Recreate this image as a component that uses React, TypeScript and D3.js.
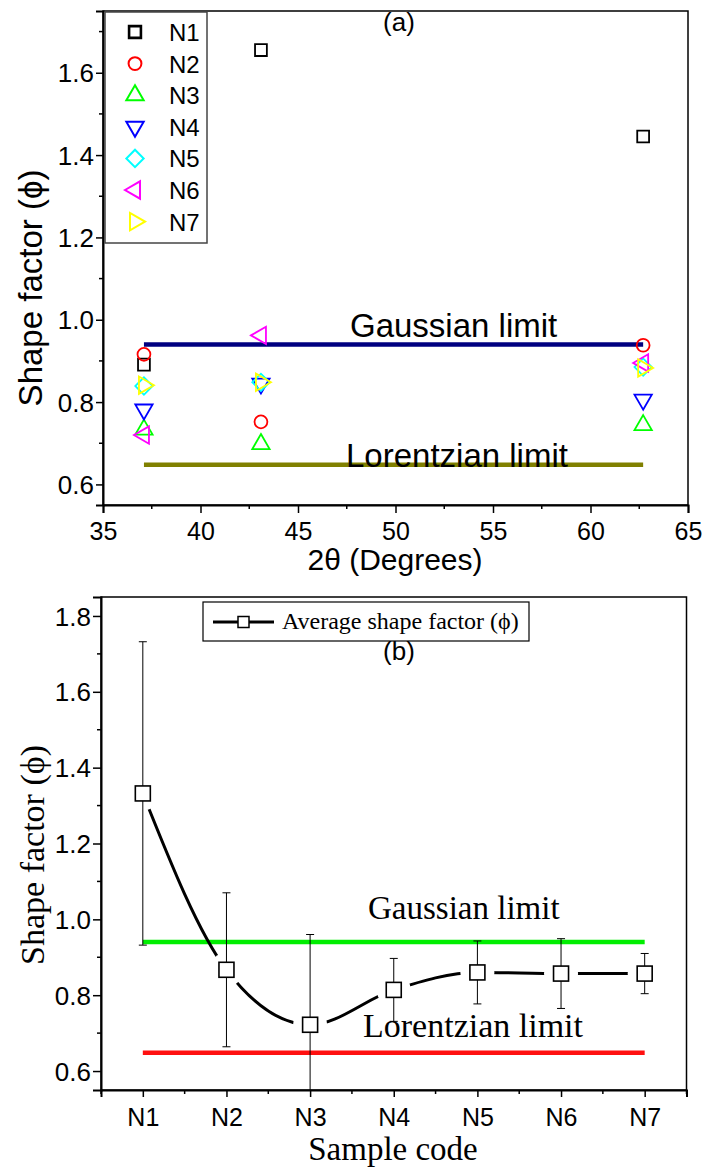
import * as d3 from 'd3'
import { useEffect, useRef } from 'react'

// panel (a): shape factor per peak position
const angles = [37.1, 43.1, 62.7]
const seriesNames = ['N1', 'N2', 'N3', 'N4', 'N5', 'N6', 'N7']
const seriesColors = ['#000000', '#ff0000', '#00ff00', '#0000ff', '#00ffff', '#ff00ff', '#ffff00']
const n1 = [0.891, 1.655, 1.445]
const n2 = [0.916, 0.752, 0.938]
const n3 = [0.733, 0.698, 0.744]
const n4 = [0.782, 0.845, 0.806]
const n5 = [0.839, 0.848, 0.885]
const n6 = [0.72, 0.962, 0.895]
const n7 = [0.841, 0.848, 0.883]
const xTicksA = [35, 40, 45, 50, 55, 60, 65]
const yTicksA = [0.6, 0.8, 1.0, 1.2, 1.4, 1.6]

// panel (b): average shape factor per sample
const samples = ['N1', 'N2', 'N3', 'N4', 'N5', 'N6', 'N7']
const avgShape = [1.332, 0.867, 0.722, 0.814, 0.86, 0.857, 0.857]
const avgErr = [0.4, 0.203, 0.238, 0.083, 0.083, 0.092, 0.053]
const yTicksB = [0.6, 0.8, 1.0, 1.2, 1.4, 1.6, 1.8]

const gaussLimit = 0.94
const lorentzLimit = 0.648

const SANS = '"Liberation Sans", Arial, sans-serif'
const SERIF = '"Liberation Serif", "Times New Roman", serif'

export default function App() {
  const svgRef = useRef<SVGSVGElement>(null)

  useEffect(() => {
    const svg = d3.select(svgRef.current)
    svg.selectAll('*').remove()

    // ---------------- panel (a) ----------------
    const xa = d3.scaleLinear().domain([35, 65]).range([103, 688])
    const ya = d3.scaleLinear().domain([0.55, 1.75]).range([505, 11])
    const ga = svg.append('g')

    ga.append('rect')
      .attr('x', xa(35)).attr('y', ya(1.75))
      .attr('width', xa(65) - xa(35)).attr('height', ya(0.55) - ya(1.75))
      .attr('fill', 'none').attr('stroke', '#000').attr('stroke-width', 1.5)

    // minor ticks
    ga.append('g').selectAll('line')
      .data(d3.range(37.5, 65, 5))
      .join('line')
      .attr('x1', (d) => xa(d)).attr('x2', (d) => xa(d))
      .attr('y1', ya(0.55)).attr('y2', ya(0.55) + 4)
      .attr('stroke', '#000').attr('stroke-width', 1.5)
    ga.append('g').selectAll('line')
      .data([0.7, 0.9, 1.1, 1.3, 1.5, 1.7])
      .join('line')
      .attr('x1', xa(35) - 4).attr('x2', xa(35))
      .attr('y1', (d) => ya(d)).attr('y2', (d) => ya(d))
      .attr('stroke', '#000').attr('stroke-width', 1.5)

    const axA = ga.append('g').attr('transform', `translate(0,${ya(0.55)})`)
      .call(d3.axisBottom(xa).tickValues(xTicksA).tickSize(8).tickFormat(d3.format('d')))
    axA.select('.domain').attr('stroke-width', 2)
    axA.selectAll('.tick line').attr('stroke-width', 1.5)
    axA.selectAll('.tick text').attr('font-family', SANS).attr('font-size', 25).attr('dy', 0)
      .attr('y', 35)

    const ayA = ga.append('g').attr('transform', `translate(${xa(35)},0)`)
      .call(d3.axisLeft(ya).tickValues(yTicksA).tickSize(7).tickFormat(d3.format('.1f')))
    ayA.select('.domain').attr('stroke-width', 2)
    ayA.selectAll('.tick line').attr('stroke-width', 1.5)
    ayA.selectAll('.tick text').attr('font-family', SANS).attr('font-size', 26).attr('dy', '0.35em').attr('x', -9)

    // limit lines
    ga.append('line')
      .attr('x1', xa(angles[0])).attr('x2', xa(angles[2]))
      .attr('y1', ya(gaussLimit)).attr('y2', ya(gaussLimit))
      .attr('stroke', '#000080').attr('stroke-width', 4.5)
    ga.append('line')
      .attr('x1', xa(angles[0])).attr('x2', xa(angles[2]))
      .attr('y1', ya(lorentzLimit)).attr('y2', ya(lorentzLimit))
      .attr('stroke', '#808000').attr('stroke-width', 4.5)

    ga.append('text').attr('x', 350).attr('y', 337)
      .attr('font-family', SANS).attr('font-size', 33).text('Gaussian limit')
    ga.append('text').attr('x', 346).attr('y', 467)
      .attr('font-family', SANS).attr('font-size', 33).text('Lorentzian limit')
    ga.append('text').attr('x', 399).attr('y', 31).attr('text-anchor', 'middle')
      .attr('font-family', SANS).attr('font-size', 26).text('(a)')

    const symbols = [
      { type: d3.symbolSquare, size: 140, rot: 0 },
      { type: d3.symbolCircle, size: 130, rot: 0 },
      { type: d3.symbolTriangle, size: 130, rot: 0 },
      { type: d3.symbolTriangle, size: 130, rot: 180 },
      { type: d3.symbolSquare, size: 150, rot: 45 },
      { type: d3.symbolTriangle, size: 130, rot: -90 },
      { type: d3.symbolTriangle, size: 130, rot: 90 },
    ]
    const seriesVals = [n1, n2, n3, n4, n5, n6, n7]

    seriesVals.forEach((vals, i) => {
      const s = symbols[i]
      const path = d3.symbol().type(s.type).size(s.size)()
      ga.append('g').selectAll('path')
        .data(vals)
        .join('path')
        .attr('d', path)
        .attr('transform', (d, j) => `translate(${xa(angles[j])},${ya(d)}) rotate(${s.rot})`)
        .attr('fill', 'none')
        .attr('stroke', seriesColors[i])
        .attr('stroke-width', 1.8)
    })

    // legend (a)
    const lg = ga.append('g')
    lg.append('rect').attr('x', 105).attr('y', 12).attr('width', 102).attr('height', 231)
      .attr('fill', 'white').attr('stroke', '#444').attr('stroke-width', 1.5)
    seriesNames.forEach((name, i) => {
      const s = symbols[i]
      const cy = 32 + i * 31.6
      lg.append('path')
        .attr('d', d3.symbol().type(s.type).size(s.size)())
        .attr('transform', `translate(135,${cy}) rotate(${s.rot})`)
        .attr('fill', 'none').attr('stroke', seriesColors[i]).attr('stroke-width', i === 0 ? 2.6 : 2)
      lg.append('text').attr('x', 169).attr('y', cy + 9)
        .attr('font-family', SANS).attr('font-size', 24).text(name)
    })

    ga.append('text')
      .attr('transform', `translate(42,288) rotate(-90)`)
      .attr('text-anchor', 'middle')
      .attr('font-family', SANS).attr('font-size', 33)
      .text('Shape factor (\u03d5)')
    ga.append('text').attr('x', 395).attr('y', 570).attr('text-anchor', 'middle')
      .attr('font-family', SANS).attr('font-size', 30)
      .text('2\u03b8 (Degrees)')

    // ---------------- panel (b) ----------------
    const xb = d3.scalePoint<string>().domain(samples).range([101, 686.5]).padding(0.5)
    const yb = d3.scaleLinear().domain([0.55, 1.85]).range([1090, 597])
    const gb = svg.append('g')

    gb.append('clipPath').attr('id', 'clipB')
      .append('rect').attr('x', 101).attr('y', 597).attr('width', 585.5).attr('height', 493)

    gb.append('rect')
      .attr('x', 101).attr('y', 597).attr('width', 585.5).attr('height', 493)
      .attr('fill', 'none').attr('stroke', '#000').attr('stroke-width', 1.5)

    const step = xb.step()
    gb.append('g').selectAll('line')
      .data(d3.range(samples.length + 1))
      .join('line')
      .attr('x1', (d) => 101 + d * step).attr('x2', (d) => 101 + d * step)
      .attr('y1', 1090).attr('y2', 1094)
      .attr('stroke', '#000').attr('stroke-width', 1.5)
    gb.append('g').selectAll('line')
      .data([0.7, 0.9, 1.1, 1.3, 1.5, 1.7])
      .join('line')
      .attr('x1', 97).attr('x2', 101)
      .attr('y1', (d) => yb(d)).attr('y2', (d) => yb(d))
      .attr('stroke', '#000').attr('stroke-width', 1.5)

    const axB = gb.append('g').attr('transform', 'translate(0,1090)')
      .call(d3.axisBottom(xb).tickSize(7))
    axB.select('.domain').attr('stroke-width', 2)
    axB.selectAll('.tick line').attr('stroke-width', 1.5)
    axB.selectAll('.tick text').attr('font-family', SANS).attr('font-size', 25).attr('dy', 0).attr('y', 36)

    const ayB = gb.append('g').attr('transform', 'translate(101,0)')
      .call(d3.axisLeft(yb).tickValues(yTicksB).tickSize(8).tickFormat(d3.format('.1f')))
    ayB.select('.domain').attr('stroke-width', 2)
    ayB.selectAll('.tick line').attr('stroke-width', 1.5)
    ayB.selectAll('.tick text').attr('font-family', SANS).attr('font-size', 26).attr('dy', '0.35em').attr('x', -10)

    const x0 = xb(samples[0]) as number
    const x6 = xb(samples[samples.length - 1]) as number
    gb.append('line').attr('x1', x0).attr('x2', x6)
      .attr('y1', yb(gaussLimit)).attr('y2', yb(gaussLimit))
      .attr('stroke', '#00ee00').attr('stroke-width', 4.5)
    gb.append('line').attr('x1', x0).attr('x2', x6)
      .attr('y1', yb(lorentzLimit)).attr('y2', yb(lorentzLimit))
      .attr('stroke', '#ff1010').attr('stroke-width', 4.5)

    gb.append('text').attr('x', 368).attr('y', 919)
      .attr('font-family', SERIF).attr('font-size', 33).text('Gaussian limit')
    gb.append('text').attr('x', 363).attr('y', 1037)
      .attr('font-family', SERIF).attr('font-size', 34).text('Lorentzian limit')
    gb.append('text').attr('x', 399).attr('y', 660).attr('text-anchor', 'middle')
      .attr('font-family', SANS).attr('font-size', 26).text('(b)')

    // spline with gaps around markers
    const mask = gb.append('mask').attr('id', 'gapMask')
    mask.append('rect').attr('x', 0).attr('y', 0).attr('width', 707).attr('height', 1171).attr('fill', 'white')
    mask.selectAll('circle')
      .data(avgShape)
      .join('circle')
      .attr('cx', (d, i) => xb(samples[i]) as number)
      .attr('cy', (d) => yb(d))
      .attr('r', 17)
      .attr('fill', 'black')

    const line = d3.line<number>()
      .x((d, i) => xb(samples[i]) as number)
      .y((d) => yb(d))
      .curve(d3.curveMonotoneX)
    gb.append('path')
      .datum(avgShape)
      .attr('d', line)
      .attr('fill', 'none')
      .attr('stroke', '#000')
      .attr('stroke-width', 3)
      .attr('mask', 'url(#gapMask)')

    // error bars
    const eb = gb.append('g').attr('clip-path', 'url(#clipB)')
    avgShape.forEach((v, i) => {
      const cx = xb(samples[i]) as number
      const hi = yb(v + avgErr[i])
      const lo = yb(v - avgErr[i])
      eb.append('line').attr('x1', cx).attr('x2', cx).attr('y1', hi).attr('y2', lo)
        .attr('stroke', '#000').attr('stroke-width', 1)
      ;[hi, lo].forEach((yy) => {
        eb.append('line').attr('x1', cx - 4).attr('x2', cx + 4).attr('y1', yy).attr('y2', yy)
          .attr('stroke', '#000').attr('stroke-width', 1)
      })
    })

    gb.append('g').selectAll('rect')
      .data(avgShape)
      .join('rect')
      .attr('x', (d, i) => (xb(samples[i]) as number) - 7.5)
      .attr('y', (d) => yb(d) - 7.5)
      .attr('width', 15).attr('height', 15)
      .attr('fill', 'white').attr('stroke', '#000').attr('stroke-width', 1.6)

    // legend (b)
    gb.append('rect').attr('x', 203).attr('y', 602).attr('width', 326).attr('height', 39)
      .attr('fill', 'white').attr('stroke', '#000').attr('stroke-width', 1.2)
    gb.append('line').attr('x1', 213).attr('x2', 274).attr('y1', 622).attr('y2', 622)
      .attr('stroke', '#000').attr('stroke-width', 3)
    gb.append('rect').attr('x', 238).attr('y', 616.5).attr('width', 11).attr('height', 11)
      .attr('fill', 'white').attr('stroke', '#000').attr('stroke-width', 1.5)
    gb.append('text').attr('x', 282).attr('y', 629)
      .attr('font-family', SERIF).attr('font-size', 24).text('Average shape factor (\u03d5)')

    gb.append('text')
      .attr('transform', `translate(44,855) rotate(-90)`)
      .attr('text-anchor', 'middle')
      .attr('font-family', SERIF).attr('font-size', 34)
      .text('Shape factor (\u03d5)')
    gb.append('text').attr('x', 393).attr('y', 1160).attr('text-anchor', 'middle')
      .attr('font-family', SERIF).attr('font-size', 33)
      .text('Sample code')
  }, [])

  return (
    <svg
      ref={svgRef}
      width={707}
      height={1171}
      style={{ position: 'absolute', left: 0, top: 0, background: 'white' }}
    />
  )
}
